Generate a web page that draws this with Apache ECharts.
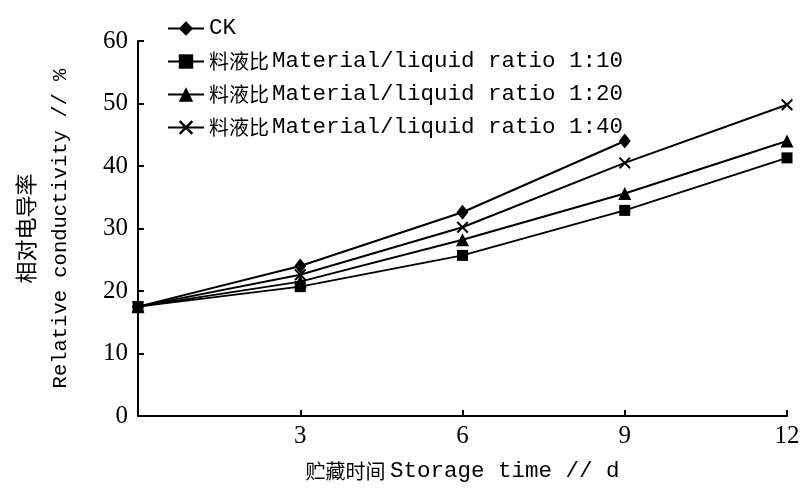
<!DOCTYPE html>
<html>
<head>
<meta charset="utf-8">
<script src="https://cdn.jsdelivr.net/npm/echarts@6/dist/echarts.min.js"></script>
<style>html,body{margin:0;padding:0;background:#fff}#c{width:804px;height:489px}</style>
</head>
<body>
<div id="c"></div>
<script>
// Data
const days = [0, 3, 6, 9, 12];
const ckValues = [17.5, 24.0, 32.6, 44.0];
const ratio10Values = [17.5, 20.7, 25.7, 32.9, 41.3];
const ratio20Values = [17.5, 21.5, 28.2, 35.6, 44.0];
const ratio40Values = [17.5, 22.6, 30.2, 40.5, 49.8];
const seriesNames = ['CK', '料液比Material/liquid ratio 1:10', '料液比Material/liquid ratio 1:20', '料液比Material/liquid ratio 1:40'];
const yTicks = [0, 10, 20, 30, 40, 50, 60];
const xTicks = [3, 6, 9, 12];

const CJK = '"Noto Sans CJK SC"';
const MONO = '"Liberation Mono", "DejaVu Sans Mono", monospace';
const SERIF = '"Liberation Serif", "DejaVu Serif", serif';
const crossPath = 'path://M0,1.2 L1.2,0 L10,8.8 L8.8,10 Z M8.8,0 L10,1.2 L1.2,10 L0,8.8 Z';

function pair(xs, ys) { return ys.map((v, i) => [xs[i], v]); }

const symbols = [
  { symbol: 'diamond', size: [12, 15] },
  { symbol: 'rect', size: 11 },
  { symbol: 'triangle', size: 13 },
  { symbol: crossPath, size: 12 }
];
const valueSets = [ckValues, ratio10Values, ratio20Values, ratio40Values];

const chart = echarts.init(document.getElementById('c'), null, { renderer: 'canvas' });
chart.setOption({
  animation: false,
  backgroundColor: '#fff',
  grid: { left: 138, right: 17, top: 41, bottom: 73, containLabel: false },
  legend: {
    orient: 'vertical',
    left: 162,
    top: 12,
    itemWidth: 36,
    itemHeight: 18,
    itemGap: 10,
    data: seriesNames,
    lineStyle: { width: 2, color: '#000' },
    formatter: function (name) {
      if (name.indexOf('料液比') === 0) {
        return '{c|料液比}{m|' + name.slice(3) + '}';
      }
      return '{m|' + name + '}';
    },
    textStyle: {
      color: '#000',
      rich: {
        c: { fontFamily: CJK, fontSize: 20, color: '#000', lineHeight: 25, padding: [0, 3, 0, 0] },
        m: { fontFamily: MONO, fontSize: 22.5, color: '#000', lineHeight: 25 }
      }
    }
  },
  xAxis: {
    type: 'value',
    min: 0, max: 12, interval: 3,
    name: '{c|贮藏时间 }{m|Storage time // d}',
    nameLocation: 'middle',
    nameGap: 44,
    nameTextStyle: {
      rich: {
        c: { fontFamily: CJK, fontSize: 20, color: '#000' },
        m: { fontFamily: MONO, fontSize: 22.5, color: '#000' }
      }
    },
    axisLine: { lineStyle: { color: '#000', width: 2 } },
    axisTick: { inside: true, length: 6, lineStyle: { color: '#000', width: 2 } },
    axisLabel: {
      showMinLabel: false,
      color: '#000', fontFamily: SERIF, fontSize: 25, margin: 8,
      formatter: v => (xTicks.indexOf(v) >= 0 ? String(v) : '')
    },
    splitLine: { show: false }
  },
  yAxis: {
    type: 'value',
    min: 0, max: 60, interval: 10,
    name: '{c|相对电导率}\n{m|Relative conductivity // %}',
    nameLocation: 'middle',
    nameRotate: 90,
    nameGap: 60,
    nameTextStyle: {
      align: 'center',
      rich: {
        c: { fontFamily: CJK, fontSize: 22, color: '#000', lineHeight: 35, align: 'center' },
        m: { fontFamily: MONO, fontSize: 20.5, color: '#000', lineHeight: 35, align: 'center' }
      }
    },
    axisLine: { lineStyle: { color: '#000', width: 2 } },
    axisTick: { inside: true, length: 6, lineStyle: { color: '#000', width: 2 } },
    axisLabel: {
      color: '#000', fontFamily: SERIF, fontSize: 25, margin: 10,
      formatter: v => (yTicks.indexOf(v) >= 0 ? String(v) : '')
    },
    splitLine: { show: false }
  },
  series: seriesNames.map((name, i) => ({
    name: name,
    type: 'line',
    data: pair(days, valueSets[i]),
    symbol: symbols[i].symbol,
    symbolSize: symbols[i].size,
    showAllSymbol: true,
    lineStyle: { color: '#000', width: 2 },
    itemStyle: { color: '#000', borderColor: '#000', borderWidth: 0 },
    z: 10 - i
  }))
});
</script>
</body>
</html>
